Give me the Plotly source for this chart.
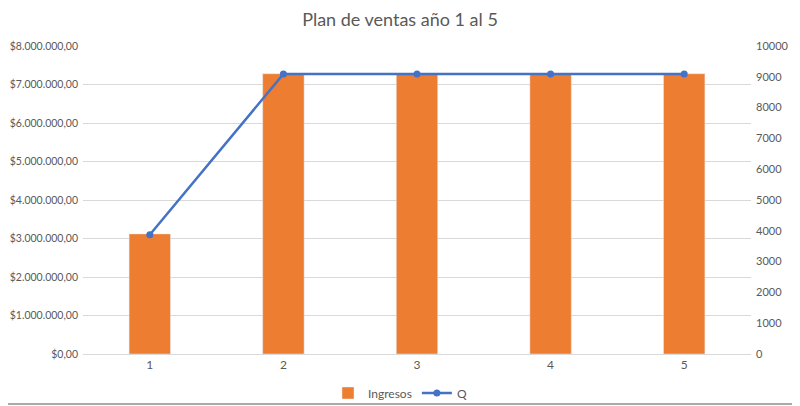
import plotly.graph_objects as go

years = [1, 2, 3, 4, 5]
ingresos = [3120000, 7280000, 7280000, 7280000, 7280000]
q = [3870, 9090, 9090, 9090, 9090]

left_ticks = [0, 1000000, 2000000, 3000000, 4000000, 5000000, 6000000, 7000000, 8000000]
left_labels = ["$0,00", "$1.000.000,00", "$2.000.000,00", "$3.000.000,00", "$4.000.000,00",
               "$5.000.000,00", "$6.000.000,00", "$7.000.000,00", "$8.000.000,00"]

font_family = "Lato, Open Sans, sans-serif"
grey = "#595959"

fig = go.Figure()

fig.add_trace(go.Bar(
    x=years,
    y=ingresos,
    name="Ingresos",
    marker=dict(color="#ED7D31"),
    width=0.31,
))

fig.add_trace(go.Scatter(
    x=years,
    y=q,
    name="Q",
    yaxis="y2",
    mode="lines+markers",
    line=dict(color="#4472C4", width=2.5),
    marker=dict(size=7, color="#4472C4"),
))

# the page adds an 8px body margin, so margins are shifted to compensate
fig.update_layout(
    width=800,
    height=406,
    paper_bgcolor="white",
    plot_bgcolor="white",
    margin=dict(l=75, r=57, t=38, b=60, autoexpand=False),
    font=dict(family=font_family, size=12, color=grey),
    title=dict(
        text="Plan de ventas año 1 al 5",
        x=(400 - 8) / 800, xanchor="center",
        yref="container",
        y=1 - 12 / 406, yanchor="middle",
        font=dict(size=18, color=grey, family=font_family),
    ),
    xaxis=dict(
        tickmode="array",
        tickvals=years,
        ticktext=[str(v) for v in years],
        range=[0.5, 5.5],
        showgrid=False,
        showline=True,
        linecolor="#D9D9D9",
        ticks="",
        automargin=False,
    ),
    yaxis=dict(
        range=[0, 8000000],
        tickmode="array",
        tickvals=left_ticks,
        ticktext=left_labels,
        tickfont=dict(size=10.5),
        ticklabelstandoff=4,
        showgrid=True,
        gridcolor="#D9D9D9",
        zeroline=False,
        ticks="",
        automargin=False,
    ),
    yaxis2=dict(
        overlaying="y",
        side="right",
        range=[0, 10000],
        dtick=1000,
        tickformat="d",
        tickfont=dict(size=11),
        ticklabelstandoff=4,
        showgrid=False,
        zeroline=False,
        ticks="",
        automargin=False,
    ),
    legend=dict(
        orientation="h",
        x=(400 - 8 - 75) / 668, xanchor="center",
        yref="container",
        y=1 - 385 / 406, yanchor="middle",
        bgcolor="rgba(0,0,0,0)",
        font=dict(size=12, color=grey),
    ),
    shapes=[
        dict(type="line", xref="paper", yref="paper",
             x0=-0.2, x1=1.0704, y0=-0.1623, y1=-0.1623,
             line=dict(color="#8C8C8C", width=1.5)),
        dict(type="line", xref="paper", yref="paper",
             x0=1.0704, x1=1.0704, y0=-0.1623, y1=1.2,
             line=dict(color="#D0D0D0", width=1)),
    ],
    showlegend=True,
)

fig.write_html("out.html")
